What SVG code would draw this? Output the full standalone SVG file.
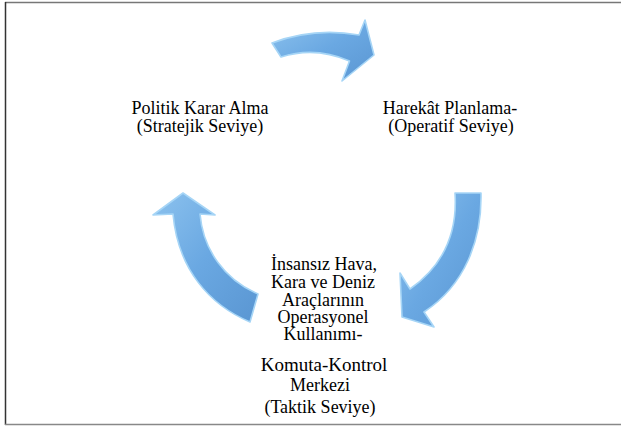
<svg xmlns="http://www.w3.org/2000/svg" width="621" height="426" viewBox="0 0 621 426">
<style>
.lbl{font-family:"Liberation Serif","Times New Roman",serif;font-size:18px;fill:#000;text-anchor:middle}
.arr{fill:url(#g);stroke:#a6d5f6;stroke-width:1.6;stroke-linejoin:round}
</style>
<defs>
<linearGradient id="g" x1="0" y1="0" x2="1" y2="1">
<stop offset="0" stop-color="#8cc2ee"/>
<stop offset="0.5" stop-color="#6aa8e2"/>
<stop offset="1" stop-color="#5a96d2"/>
</linearGradient>
</defs>
<rect x="0" y="0" width="621" height="426" fill="#fff"/>
<g id="frame" fill="none">
<line x1="5" y1="2.5" x2="621" y2="2.5" stroke="#777" stroke-width="1.5"/>
<line x1="5.5" y1="2" x2="5.5" y2="425" stroke="#333" stroke-width="1.5"/>
<line x1="5" y1="424.5" x2="621" y2="424.5" stroke="#888" stroke-width="1.5"/>
</g>
<g id="connectors">
<path class="arr" d="M272,43 Q314,27 359,35 L365,20 L374,55 L342,81 L349.5,61 Q315,46 281,57 Z"/>
<path class="arr" d="M455,193 L481,193 C482,240 465,285 424,312 L434,327 L402,317 L400,273 L410,289 C440,268 458,238 455,193 Z"/>
<path class="arr" d="M183,193 L215,215 L200,214 C203,250 225,280 258,294 L250,322 C210,305 178,270 173,214 L153,215 Z"/>
</g>
<g id="node-politik">
<text class="lbl" x="200" y="114">Politik Karar Alma</text>
<text class="lbl" x="200" y="131.5">(Stratejik Seviye)</text>
</g>
<g id="node-harekat">
<text class="lbl" x="450" y="114">Harekât Planlama-</text>
<text class="lbl" x="451" y="131.5">(Operatif Seviye)</text>
</g>
<g id="node-insansiz">
<text class="lbl" x="324" y="270">İnsansız Hava,</text>
<text class="lbl" x="323" y="288">Kara ve Deniz</text>
<text class="lbl" x="323" y="306">Araçlarının</text>
<text class="lbl" x="323" y="323">Operasyonel</text>
<text class="lbl" x="323" y="340">Kullanımı-</text>
<text class="lbl" x="324" y="371" style="font-size:19px">Komuta-Kontrol</text>
<text class="lbl" x="320" y="391">Merkezi</text>
<text class="lbl" x="320" y="413">(Taktik Seviye)</text>
</g>
</svg>
